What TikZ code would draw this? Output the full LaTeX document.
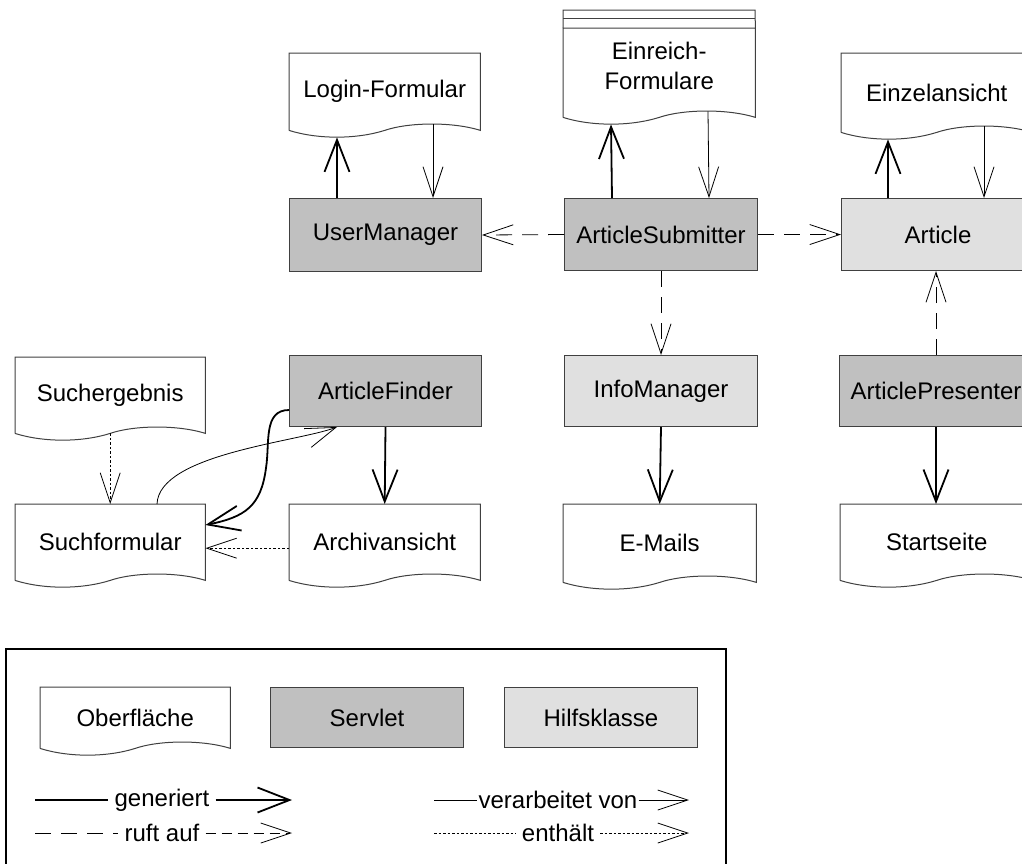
\documentclass[tikz,border=0pt]{standalone}
\usepackage{fontspec}
\setmainfont{Liberation Sans}
\usepackage{tikz}
\usetikzlibrary{calc,positioning,arrows.meta}

\definecolor{servletgray}{HTML}{C0C0C0}
\definecolor{helpergray}{HTML}{E0E0E0}
\definecolor{framegray}{HTML}{404040}

\begin{document}
\begin{tikzpicture}[x=1pt,y=-1pt,
    every node/.style={font=\fontsize{24}{30}\selectfont},
    servlet/.style={draw=framegray, line width=1pt, fill=servletgray, minimum width=193, minimum height=72, anchor=north west, inner sep=0pt},
    helper/.style={servlet, fill=helpergray},
    doc/.style={fill=white, minimum width=191, minimum height=77, anchor=north west, inner sep=0pt, align=center},
    docline/.style={draw=framegray, line width=1pt},
    gen/.style={line width=1.8pt, -{Straight Barb[length=32pt,width=25pt]}},
    proc/.style={line width=.8pt, -{Straight Barb[length=30pt,width=20pt]}},
    call/.style={proc, dash pattern=on 16pt off 10pt},
    incl/.style={proc, dash pattern=on 2.5pt off 2pt},
    lgtext/.style={inner sep=6pt},
  ]
  \clip (0,0) rectangle (1022,863);

  % Oberflaechen, Servlets, Hilfsklassen
  \node[doc] (login) at (289,53) {Login-Formular};
  \node[doc, minimum width=192, minimum height=89, text depth=14pt] (einreich) at (563,28) {Einreich-\\Formulare};
  \node[doc, minimum height=79] (einzel) at (841,53) {Einzelansicht};

  \node[servlet, minimum width=192, minimum height=73] (usermgr) at (289,198) {UserManager};
  \node[servlet] (submitter) at (564,198) {ArticleSubmitter};
  \node[helper] (article) at (841,198) {Article};

  \node[doc, minimum width=190, minimum height=76] (suchergebnis) at (15,357) {Suchergebnis};
  \node[servlet, minimum width=192, minimum height=71] (finder) at (289,355) {ArticleFinder};
  \node[helper, minimum height=71] (info) at (564,355) {InfoManager};
  \node[servlet, minimum height=71] (presenter) at (839,355) {ArticlePresenter};

  \node[doc, minimum width=190, minimum height=76] (suchform) at (15,504) {Suchformular};
  \node[doc, minimum height=76] (archiv) at (289,504) {Archivansicht};
  \node[doc, minimum width=193, minimum height=78] (email) at (563,504) {E-Mails};
  \node[doc, minimum width=193, minimum height=76] (start) at (840,504) {Startseite};

  % Legende
  \node[draw, line width=1.5pt, minimum width=720, minimum height=230, anchor=north west, inner sep=0pt] (legend) at (5,648) {};
  \node[doc, minimum width=190, minimum height=61] (lgdoc) at (40,687) {Oberfläche};
  \node[servlet, minimum height=60] (lgservlet) at (270,687) {Servlet};
  \node[helper, minimum height=60] (lghelper) at (504,687) {Hilfsklasse};

  % Dokument-Umrisse
  \foreach \n in {login,einreich,einzel,suchergebnis,suchform,archiv,email,start,lgdoc}
    \draw[docline] (\n.south west) -- (\n.north west) -- (\n.north east) -- (\n.south east)
      .. controls ($(\n.south west)!.85!(\n.south east)+(0,-9)$) and ($(\n.south west)!.62!(\n.south east)+(0,-8)$) .. ($(\n.south west)!.5!(\n.south east)$)
      .. controls ($(\n.south west)!.35!(\n.south east)+(0,9)$) and ($(\n.south west)!.15!(\n.south east)+(0,9)$) .. (\n.south west);
  \draw[docline] (einreich.north west) -- ++(0,-18) -- ++(192,0) -- (einreich.north east);
  \draw[docline] ([yshift=10pt]einreich.north west) -- ([yshift=10pt]einreich.north east);

  % generiert / verarbeitet von
  \draw[gen] ([xshift=48pt]usermgr.north west) -- ([xshift=48pt,yshift=-7pt]login.south west);
  \draw[proc] ([xshift=144pt,yshift=6pt]login.south west) -- ([xshift=144pt]usermgr.north west);
  \draw[gen] ([xshift=48pt]submitter.north west) -- ([xshift=48pt,yshift=-7pt]einreich.south west);
  \draw[proc] ([xshift=145pt,yshift=6pt]einreich.south west) -- ([xshift=145pt]submitter.north west);
  \draw[gen] ([xshift=47pt]article.north west) -- ([xshift=47pt,yshift=-7pt]einzel.south west);
  \draw[proc] ([xshift=143pt,yshift=6pt]einzel.south west) -- ([xshift=143pt]article.north west);
  \draw[gen] (finder.south) -- (archiv.north);
  \draw[gen] (info.south) -- (email.north);
  \draw[gen] (presenter.south) -- (presenter.south |- start.north);
  \draw[gen] ([yshift=-55pt]finder.north west) .. controls +(-26,0) and +(4,-25) .. (266,468)
    .. controls +(-5,38) and +(40,-8) .. ([yshift=-21pt]suchform.north east);
  \draw[proc] ([xshift=142pt]suchform.north west) .. controls +(2,-50) and +(-40,15) .. ([xshift=48pt]finder.south west);

  % ruft auf / enthaelt
  \draw[call] (submitter.west) -- (usermgr.east);
  \draw[call] (submitter.east) -- (article.west);
  \draw[call] (submitter.south) -- (info.north);
  \draw[call] (presenter.north) -- (presenter.north |- article.south);
  \draw[incl] (suchergebnis.south) -- (suchform.north);
  \draw[incl] ([yshift=-6pt]archiv.west) -- ([yshift=-6pt]suchform.east);

  % Legende: Verbindungen
  \node[lgtext] (lggen) at (162,800) {generiert};
  \node[lgtext] (lgcall) at (162,833) {ruft auf};
  \node[lgtext, inner sep=1pt] (lgproc) at (558,800) {verarbeitet von};
  \node[lgtext] (lgincl) at (558,833) {enthält};
  \coordinate (lggen0) at (35,800);   \coordinate (lggen1) at (292,800);
  \coordinate (lgcall0) at (35,833);  \coordinate (lgcall1) at (292,833);
  \coordinate (lgproc0) at (434,800); \coordinate (lgproc1) at (689,800);
  \coordinate (lgincl0) at (434,833); \coordinate (lgincl1) at (689,833);
  \draw[line width=1.8pt] (lggen0) -- (lggen.west);
  \draw[gen] (lggen.east) -- (lggen1);
  \draw[line width=.8pt, dash pattern=on 16pt off 10pt] (lgcall0) -- (lgcall.west);
  \draw[call, dash pattern=on 10pt off 6pt] (lgcall.east) -- (lgcall1);
  \draw[line width=.8pt] (lgproc0) -- (lgproc.west);
  \draw[proc] (lgproc.east) -- (lgproc1);
  \draw[line width=.8pt, dash pattern=on 2.5pt off 2pt] (lgincl0) -- (lgincl.west);
  \draw[incl] (lgincl.east) -- (lgincl1);
\end{tikzpicture}
\end{document}
